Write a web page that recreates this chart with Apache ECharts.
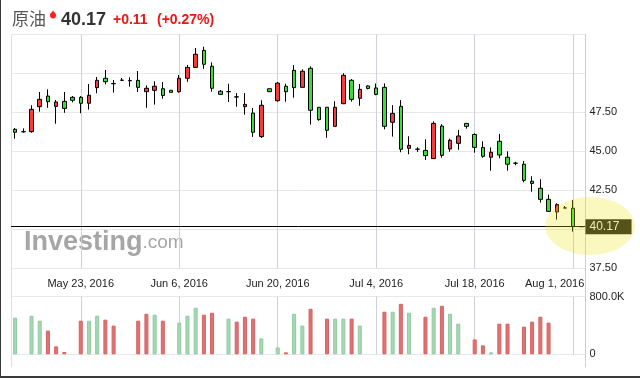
<!DOCTYPE html>
<html>
<head>
<meta charset="utf-8">
<script src="https://cdn.jsdelivr.net/npm/echarts@6/dist/echarts.min.js"></script>
<style>
  html, body { margin: 0; padding: 0; background: #fff; }
  #main { width: 640px; height: 378px; }
  .frame { position: absolute; left: 0; top: 0; width: 640px; height: 378px; box-sizing: border-box;
           border-left: 1px solid #3a3a3a; border-bottom: 2px solid #3a3a3a; pointer-events: none; }
</style>
</head>
<body>
<div id="main"></div>
<div class="frame"></div>
<script>
// sessions (Mon-Fri plus the Sunday evening session)
var dates = [
  'May 13, 2016', 'May 15, 2016', 'May 16, 2016', 'May 17, 2016', 'May 18, 2016', 'May 19, 2016', 'May 20, 2016',
  'May 22, 2016', 'May 23, 2016', 'May 24, 2016', 'May 25, 2016', 'May 26, 2016', 'May 27, 2016',
  'May 29, 2016', 'May 30, 2016', 'May 31, 2016', 'Jun 1, 2016', 'Jun 2, 2016', 'Jun 3, 2016',
  'Jun 5, 2016', 'Jun 6, 2016', 'Jun 7, 2016', 'Jun 8, 2016', 'Jun 9, 2016', 'Jun 10, 2016',
  'Jun 12, 2016', 'Jun 13, 2016', 'Jun 14, 2016', 'Jun 15, 2016', 'Jun 16, 2016', 'Jun 17, 2016',
  'Jun 19, 2016', 'Jun 20, 2016', 'Jun 21, 2016', 'Jun 22, 2016', 'Jun 23, 2016', 'Jun 24, 2016',
  'Jun 26, 2016', 'Jun 27, 2016', 'Jun 28, 2016', 'Jun 29, 2016', 'Jun 30, 2016', 'Jul 1, 2016',
  'Jul 3, 2016', 'Jul 4, 2016', 'Jul 5, 2016', 'Jul 6, 2016', 'Jul 7, 2016', 'Jul 8, 2016',
  'Jul 10, 2016', 'Jul 11, 2016', 'Jul 12, 2016', 'Jul 13, 2016', 'Jul 14, 2016', 'Jul 15, 2016',
  'Jul 17, 2016', 'Jul 18, 2016', 'Jul 19, 2016', 'Jul 20, 2016', 'Jul 21, 2016', 'Jul 22, 2016',
  'Jul 24, 2016', 'Jul 25, 2016', 'Jul 26, 2016', 'Jul 27, 2016', 'Jul 28, 2016', 'Jul 29, 2016',
  'Jul 31, 2016', 'Aug 1, 2016', 'Aug 2, 2016'
];

var openP = [
  46.41, 46.25, 46.26, 47.86, 48.54, 47.88, 48.20,
  48.46, 48.46, 48.08, 49.08, 49.68, 49.35,
  49.55, 49.54, 49.55, 48.82, 48.91, 49.01,
  48.91, 48.82, 49.68, 50.38, 51.47, 50.45,
  48.85, 48.83, 48.49, 47.86, 47.45, 45.94,
  49.01, 48.24, 49.17, 50.19, 49.10, 50.32,
  47.82, 47.82, 46.60, 48.05, 49.55, 48.40,
  49.19, 49.06, 49.10, 46.86, 47.88, 45.19,
  45.14, 45.06, 44.53, 46.62, 45.15, 45.51,
  46.79, 46.08, 45.25, 44.62, 45.64, 44.62,
  44.24, 44.17, 43.08, 42.63, 41.92, 41.11,
  41.37, 41.35, 40.17
];
var closeP = [
  46.22, 46.26, 47.69, 48.33, 48.18, 48.16, 47.75,
  48.27, 48.08, 48.59, 49.55, 49.46, 49.33,
  49.56, 49.52, 49.10, 49.04, 49.17, 48.58,
  48.78, 49.68, 50.38, 51.22, 50.58, 49.04,
  48.65, 48.82, 48.48, 48.01, 46.22, 47.95,
  48.82, 49.37, 48.82, 49.08, 50.13, 47.63,
  47.03, 46.35, 47.82, 49.87, 48.33, 48.97,
  49.03, 48.65, 46.60, 47.43, 45.13, 45.38,
  45.13, 44.72, 46.79, 44.74, 45.71, 45.98,
  46.60, 45.25, 44.68, 44.94, 44.76, 44.17,
  44.23, 43.14, 42.94, 41.92, 41.15, 41.58,
  41.37, 40.17, 40.17
];
var lowP = [
  45.81, 46.19, 46.19, 47.54, 47.79, 46.77, 47.47,
  48.14, 47.44, 47.67, 48.72, 49.29, 48.76,
  49.50, 49.14, 48.80, 47.79, 47.99, 48.37,
  48.78, 48.76, 49.46, 50.36, 50.29, 48.82,
  48.63, 48.16, 47.86, 47.35, 45.92, 45.85,
  48.82, 48.18, 48.18, 48.44, 49.10, 46.71,
  46.96, 45.87, 46.60, 48.05, 48.18, 47.92,
  48.97, 48.59, 46.41, 45.94, 44.94, 44.81,
  44.96, 44.44, 44.53, 44.59, 44.97, 45.10,
  46.45, 44.91, 44.59, 43.76, 44.55, 43.76,
  44.10, 43.01, 42.41, 41.71, 41.11, 40.62,
  41.37, 39.85, 40.17
];
var highP = [
  46.49, 46.47, 47.95, 48.80, 48.97, 48.29, 48.80,
  48.54, 48.54, 49.31, 49.76, 50.21, 49.57,
  49.70, 49.74, 50.15, 49.23, 49.49, 49.44,
  48.91, 49.89, 50.53, 51.62, 51.70, 50.70,
  48.93, 49.33, 48.73, 48.73, 47.78, 48.27,
  49.01, 49.44, 49.33, 50.53, 50.26, 50.45,
  47.82, 47.82, 48.21, 50.00, 49.63, 49.31,
  49.23, 49.35, 49.35, 47.96, 48.28, 45.96,
  45.26, 45.77, 46.92, 46.74, 45.81, 46.37,
  46.79, 46.15, 45.64, 45.25, 46.11, 45.00,
  44.33, 44.38, 43.40, 43.21, 42.22, 41.67,
  41.49, 41.88, 40.17
];
// volume in contracts, '-' where no bar is drawn
var volume = [
  508000, '-', 535000, 466000, 329000, 110000, 32000,
  '-', 466000, 466000, 535000, 480000, 398000,
  '-', '-', 466000, 562000, 549000, 466000,
  '-', 439000, 535000, 645000, 549000, 576000,
  '-', 494000, 453000, 521000, 494000, 220000,
  '-', 96000, 27000, 562000, 398000, 631000,
  '-', 494000, 494000, 494000, 494000, 398000,
  '-', '-', 590000, 590000, 700000, 576000,
  '-', 521000, 645000, 672000, 562000, 425000,
  '-', 206000, 124000, 27000, 425000, 425000,
  '-', 384000, 453000, 521000, 439000, '-',
  '-', '-', '-'
];
var gridDates = ['May 23, 2016', 'Jun 6, 2016', 'Jun 20, 2016', 'Jul 4, 2016', 'Jul 18, 2016', 'Aug 1, 2016'];
var priceLabels = [47.5, 45, 42.5, 37.5];
var lastPrice = 40.17;

var font = 'Arial, "Liberation Sans", sans-serif';
var gridColor = '#e6e8ee';
var upColor = '#f53b3b';
var downColor = '#35e035';

var candles = dates.map(function (d, i) {
  return [openP[i], closeP[i], lowP[i], highP[i]];
});
var volBars = volume.map(function (v, i) {
  var rise = i === 0 || closeP[i] >= closeP[i - 1];
  return {
    value: v,
    itemStyle: {
      color: rise ? '#a6d8b5' : '#df7373',
      borderColor: rise ? '#8fcaa0' : '#d66262'
    }
  };
});
var isGridDate = function (i) { return gridDates.indexOf(dates[i]) >= 0; };
// vertical grid lines on the category centres of every other Monday
// (slightly darker grey so they read like the horizontal ones)
var vSplit = { show: true, alignWithLabel: true, interval: isGridDate, lineStyle: { color: '#cdd1da' } };

var myChart = echarts.init(document.getElementById('main'));
var option = {
  animation: false,
  grid: [
    { left: 11, right: 54.5, top: 34.3, height: 234 },
    { left: 11, right: 54.5, top: 296.6, height: 57.7 },
    { left: 11, right: 54.5, top: 34.3, bottom: 11 }
  ],
  xAxis: [
    {
      type: 'category', gridIndex: 0, data: dates, boundaryGap: true,
      axisLine: { show: false }, axisTick: { show: false }, splitLine: vSplit,
      axisLabel: {
        interval: isGridDate,
        formatter: function (v) {
          return v === gridDates[gridDates.length - 1] ? '{last|' + v + '}' : v;
        },
        rich: { last: { padding: [0, 37, 0, 0], color: '#222', fontSize: 11, fontFamily: font } },
        color: '#222', fontSize: 11, fontFamily: font, margin: 10
      }
    },
    {
      type: 'category', gridIndex: 1, data: dates, boundaryGap: true,
      axisLine: { show: false }, axisTick: { show: false }, axisLabel: { show: false }, splitLine: vSplit
    },
    { type: 'value', gridIndex: 2, show: false }
  ],
  yAxis: [
    {
      type: 'value', gridIndex: 0, position: 'right', min: 37.5, max: 52.5, interval: 2.5,
      axisLine: { show: false }, axisTick: { show: false },
      splitLine: { lineStyle: { color: gridColor } },
      axisLabel: {
        color: '#222', fontSize: 11, fontFamily: font, margin: 4,
        formatter: function (v) { return priceLabels.indexOf(v) >= 0 ? v.toFixed(2) : ''; }
      }
    },
    {
      type: 'value', gridIndex: 1, position: 'right', min: 0, max: 800000, interval: 800000,
      axisLine: { show: false }, axisTick: { show: false },
      splitLine: { lineStyle: { color: gridColor } },
      axisLabel: {
        color: '#222', fontSize: 11, fontFamily: font, margin: 4,
        formatter: function (v) { return v === 0 ? '0' : (v / 1000).toFixed(1) + 'K'; }
      }
    },
    {
      type: 'value', gridIndex: 2, position: 'left',
      axisLine: { show: true, lineStyle: { color: '#dcdfe5' } },
      axisTick: { show: false }, axisLabel: { show: false }, splitLine: { show: false }
    },
    {
      type: 'value', gridIndex: 2, position: 'right',
      axisLine: { show: true, lineStyle: { color: '#c9d0db' } },
      axisTick: { show: false }, axisLabel: { show: false }, splitLine: { show: false }
    }
  ],
  series: [
    {
      type: 'candlestick', xAxisIndex: 0, yAxisIndex: 0, data: candles, barWidth: 4,
      itemStyle: {
        color: upColor, color0: downColor,
        borderColor: '#000', borderColor0: '#000', borderColorDoji: '#000', borderWidth: 1
      },
      markLine: {
        silent: true, symbol: 'none',
        lineStyle: { color: '#000', width: 1, type: 'solid' },
        label: {
          show: true, position: 'end', distance: 0,
          formatter: lastPrice.toFixed(2),
          color: '#eeeeee', backgroundColor: '#1e1e1e',
          fontSize: 12, fontFamily: font, padding: [2, 12, 1, 4], lineHeight: 12
        },
        data: [{ yAxis: lastPrice }]
      }
    },
    {
      type: 'bar', xAxisIndex: 1, yAxisIndex: 1, data: volBars, barWidth: 4,
      itemStyle: { borderWidth: 1 }
    }
  ],
  graphic: [
    {
      type: 'text', x: 12, y: 19, z: 10,
      style: { text: '原油', font: '17px "Noto Sans CJK SC", sans-serif', fill: '#555', verticalAlign: 'middle' }
    },
    { type: 'circle', x: 53, y: 15.5, z: 10, shape: { cx: 0, cy: 0, r: 3 }, style: { fill: '#f22' } },
    { type: 'polygon', x: 53, y: 15.5, z: 10, shape: { points: [[-3, -1], [0, -5], [3, -1]] }, style: { fill: '#f22' } },
    {
      type: 'text', x: 61, y: 20, z: 10,
      style: { text: '40.17', font: 'bold 18px ' + font, fill: '#333', verticalAlign: 'middle' }
    },
    {
      type: 'text', x: 113, y: 20, z: 10,
      style: { text: '+0.11', font: 'bold 14px ' + font, fill: '#f01414', verticalAlign: 'middle' }
    },
    {
      type: 'text', x: 157, y: 20, z: 10,
      style: { text: '(+0.27%)', font: 'bold 14px ' + font, fill: '#f01414', verticalAlign: 'middle' }
    },
    {
      type: 'text', x: 24, y: 256, z: 0,
      style: {
        text: '{a|Investing}{b|.com}', verticalAlign: 'bottom',
        rich: {
          a: { font: 'bold 27px ' + font, fill: '#a6a6a6' },
          b: { font: '19px ' + font, fill: '#a6a6a6' }
        }
      }
    },
    {
      type: 'circle', x: 590, y: 226, z: 100, scaleX: 1.55, silent: true,
      shape: { cx: 0, cy: 0, r: 29 },
      style: { fill: 'rgba(238,224,20,0.27)' }
    }
  ]
};
myChart.setOption(option);
</script>
</body>
</html>
